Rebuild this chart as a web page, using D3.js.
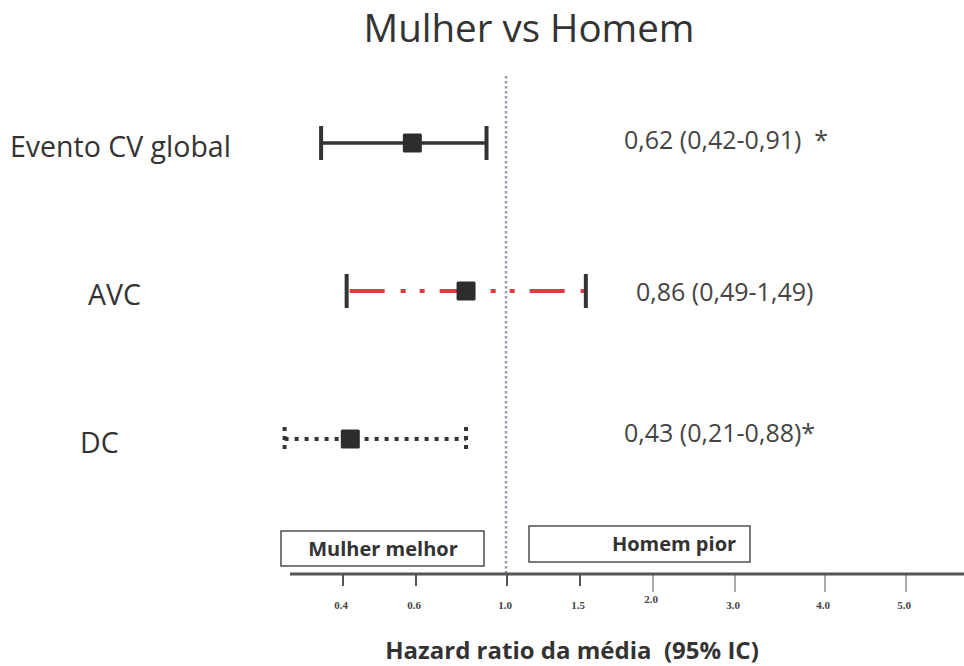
<!DOCTYPE html>
<html>
<head>
<meta charset="utf-8">
<script src="https://cdn.jsdelivr.net/npm/d3@7"></script>
<style>
  body { margin: 0; background: #fff; }
  svg { display: block; font-family: "Open Sans", Lato, sans-serif; }
  text { white-space: pre; }
</style>
</head>
<body>
<svg id="chart" width="964" height="666"></svg>
<script>
// rows, top to bottom
const outcomes = ['Evento CV global', 'AVC', 'DC'];
const hrLabels = ['0,62 (0,42-0,91)  *', '0,86 (0,49-1,49)', '0,43 (0,21-0,88)*'];
// positions as drawn on the (non-linear) axis
const lower = [0.34, 0.41, 0.24];
const estimate = [0.59, 0.82, 0.42];
const upper = [0.91, 1.54, 0.82];
const lineStyles = ['solid', 'dashdot', 'dotted'];

const tickValues = [0.4, 0.6, 1.0, 1.5, 2.0, 3.0, 4.0, 5.0];
const tickPos = [343, 416, 507, 580, 653, 735, 825, 906];

const svg = d3.select('#chart');

// piecewise axis, as in the picture
let x = d3.scaleLinear().domain(tickValues).range(tickPos);
let y = d3.scalePoint().domain(outcomes).range([143, 439]);

const ink = '#333';

svg.append('text')
    .attr('x', 529).attr('y', 42)
    .attr('text-anchor', 'middle')
    .attr('font-size', 38.5)
    .attr('fill', ink)
    .text('Mulher vs Homem');

// reference line at HR = 1
svg.append('line')
    .attr('x1', x(1) - 1).attr('x2', x(1) - 1)
    .attr('y1', 76).attr('y2', 574)
    .attr('stroke', '#9a9aae')
    .attr('stroke-width', 2.5)
    .attr('stroke-dasharray', '2.5,2.5');

// axis
let axisY = 574;
svg.append('line')
    .attr('x1', 290).attr('x2', 964)
    .attr('y1', axisY).attr('y2', axisY)
    .attr('stroke', '#555')
    .attr('stroke-width', 3);

let ticks = svg.append('g').selectAll('g')
    .data(tickValues)
    .join('g')
    .attr('transform', d => `translate(${x(d)},${axisY})`);

ticks.append('line')
    .attr('y1', 0).attr('y2', (d, i) => i < 4 ? 12 : 18)
    .attr('stroke', '#555')
    .attr('stroke-width', (d, i) => i < 4 ? 2 : 1);

ticks.append('text')
    .attr('y', (d, i) => d === 2 ? 29 : 35)
    .attr('x', -2)
    .attr('text-anchor', 'middle')
    .attr('font-family', '"Liberation Serif", serif')
    .attr('font-weight', 'bold')
    .attr('font-size', 11)
    .attr('fill', '#444')
    .text(d => d.toFixed(1));

svg.append('text')
    .attr('x', 572).attr('y', 659)
    .attr('text-anchor', 'middle')
    .attr('font-size', 24)
    .attr('font-weight', 'bold')
    .attr('fill', ink)
    .text('Hazard ratio da média  (95% IC)');

// favour boxes
const boxes = [
    {label: 'Mulher melhor', x0: 281, x1: 484, y0: 531, y1: 566, tx: 383},
    {label: 'Homem pior', x0: 529, x1: 750, y0: 526, y1: 562, tx: 674}
];
let boxG = svg.append('g').selectAll('g').data(boxes).join('g');
boxG.append('rect')
    .attr('x', d => d.x0).attr('y', d => d.y0)
    .attr('width', d => d.x1 - d.x0).attr('height', d => d.y1 - d.y0)
    .attr('fill', '#fff')
    .attr('stroke', ink)
    .attr('stroke-width', 1.3);
boxG.append('text')
    .attr('x', d => d.tx).attr('y', d => (d.y0 + d.y1) / 2 + 7)
    .attr('text-anchor', 'middle')
    .attr('font-size', 20)
    .attr('font-weight', 'bold')
    .attr('fill', ink)
    .text(d => d.label);

// rows
let rows = svg.append('g').selectAll('g')
    .data(outcomes)
    .join('g')
    .attr('transform', d => `translate(0,${y(d)})`);

const labelX = [10, 88, 80];
rows.append('text')
    .attr('x', (d, i) => labelX[i])
    .attr('y', 14)
    .attr('font-size', 28.5)
    .attr('fill', ink)
    .text(d => d);

const hrX = [624, 636, 624];
const hrY = [6, 10, 3];
rows.append('text')
    .attr('x', (d, i) => hrX[i])
    .attr('y', (d, i) => hrY[i])
    .attr('font-size', 25)
    .attr('fill', '#444')
    .text((d, i) => hrLabels[i]);

function lineStroke(style) {
    if (style === 'dashdot') return {color: '#e03a3e', dash: '35,16,5,14,5,15', width: 4};
    if (style === 'dotted') return {color: ink, dash: '4,6', width: 4};
    return {color: ink, dash: null, width: 3.5};
}

rows.each(function(d, i) {
    let g = d3.select(this);
    let s = lineStroke(lineStyles[i]);
    let dotted = lineStyles[i] === 'dotted';
    let capH = dotted ? 12 : 17;

    g.append('line')
        .attr('x1', x(lower[i]) + (lineStyles[i] === 'dashdot' ? 3 : 0))
        .attr('x2', x(upper[i]))
        .attr('y1', 0).attr('y2', 0)
        .attr('stroke', s.color)
        .attr('stroke-width', s.width)
        .attr('stroke-dasharray', s.dash);

    // caps are dark even on the red row
    [lower[i], upper[i]].forEach(v => {
        g.append('line')
            .attr('x1', x(v)).attr('x2', x(v))
            .attr('y1', -capH).attr('y2', capH)
            .attr('stroke', ink)
            .attr('stroke-width', 4)
            .attr('stroke-dasharray', dotted ? '4,5' : null);
    });

    g.append('rect')
        .attr('x', x(estimate[i]) - 9.5).attr('y', -9.5)
        .attr('width', 19).attr('height', 19)
        .attr('rx', 1.5)
        .attr('fill', '#2d2d2d');
});
</script>
</body>
</html>
